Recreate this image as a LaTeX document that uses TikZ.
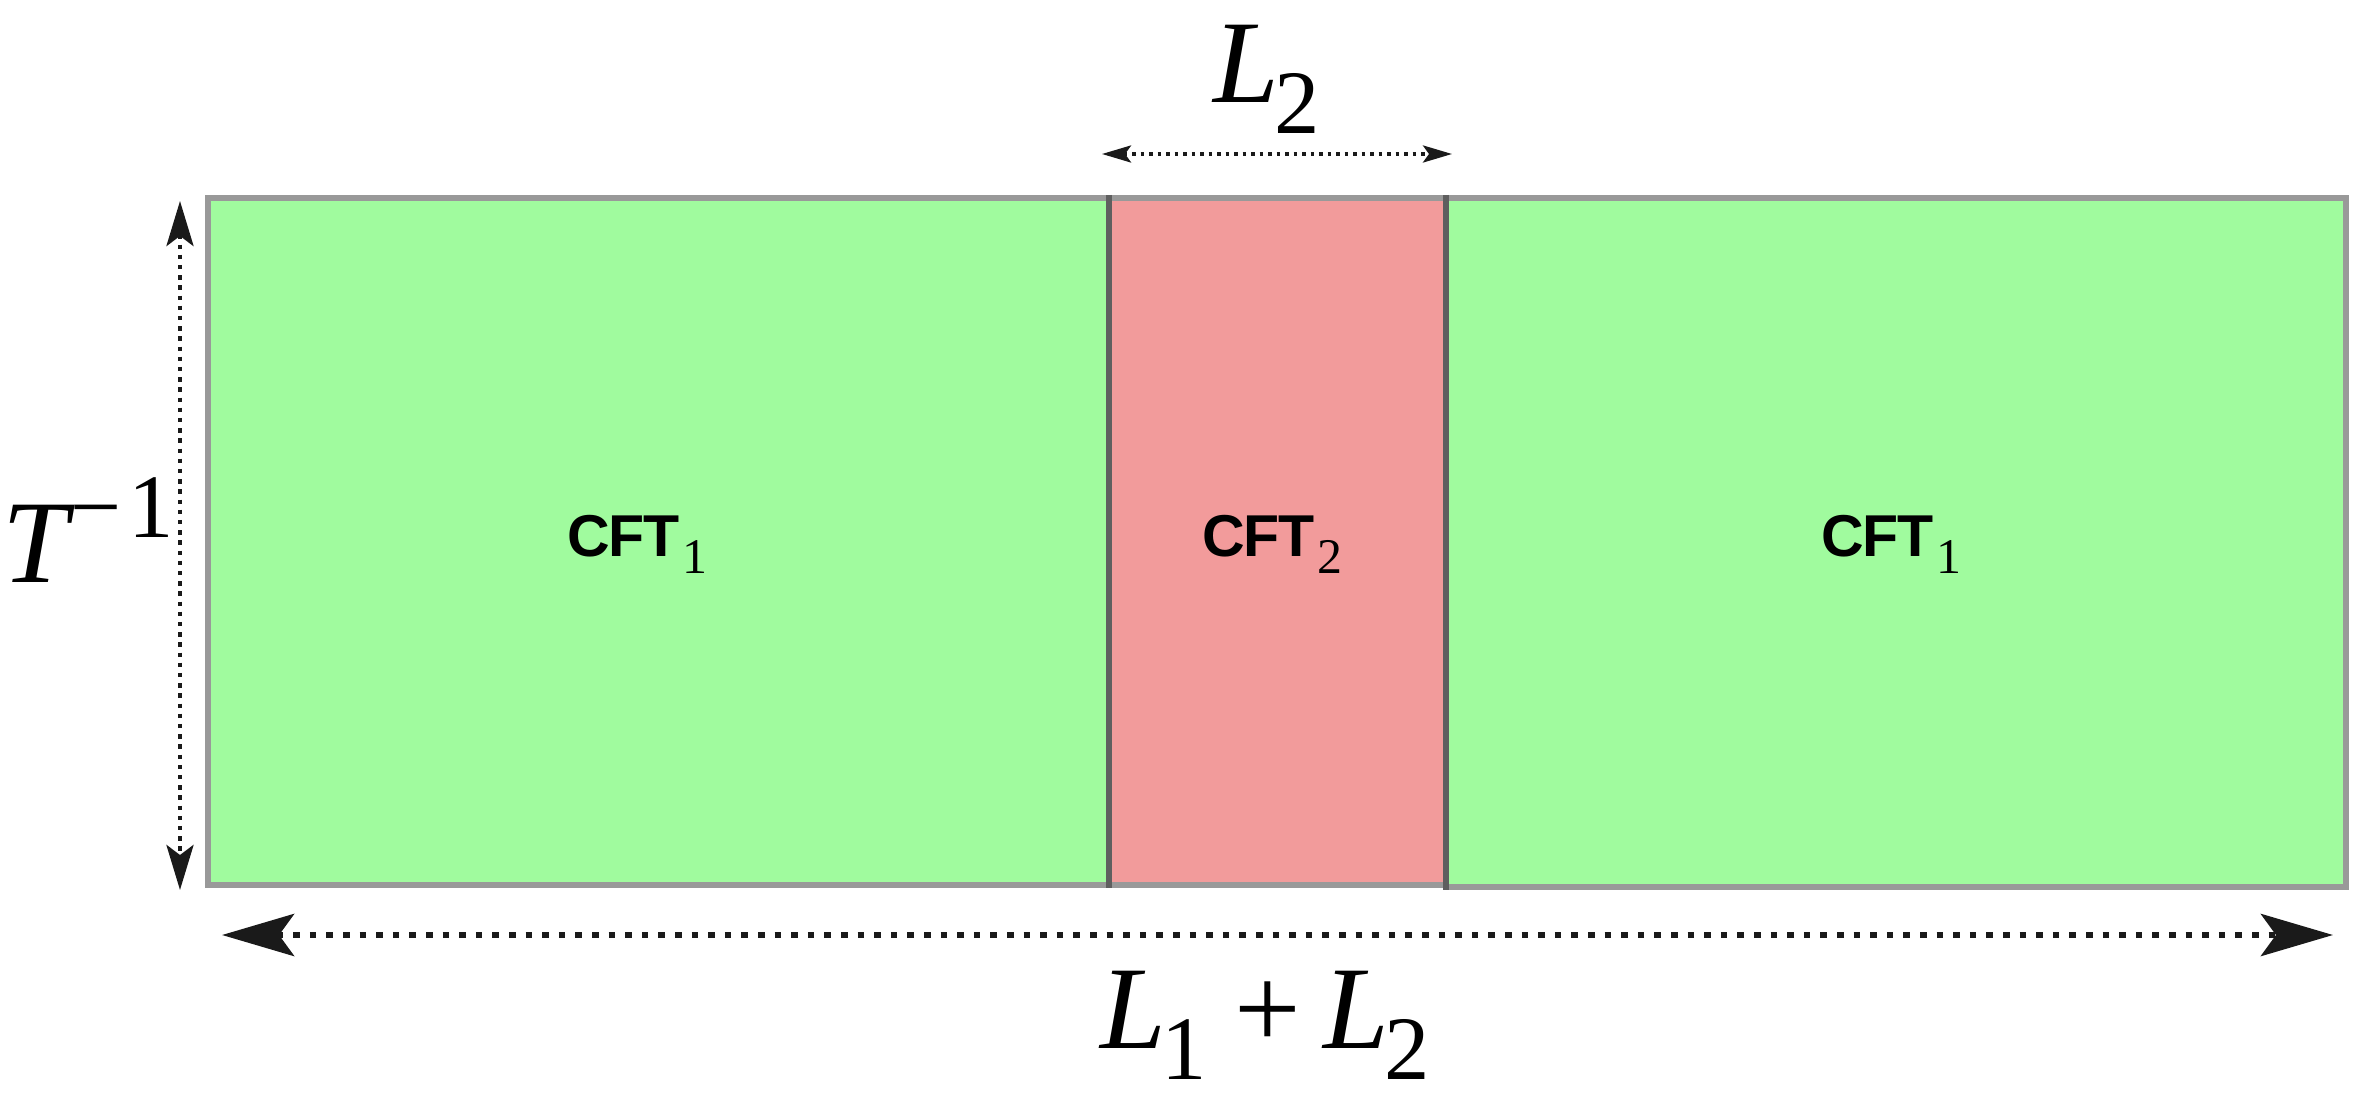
\documentclass[tikz,border=0pt]{standalone}
\usepackage{fontspec}
\setmainfont{Liberation Serif}
\setsansfont{Liberation Sans}
\usetikzlibrary{arrows.meta}
\definecolor{cgreen}{HTML}{A0FB9E}
\definecolor{cred}{HTML}{F29B9B}
\definecolor{cborder}{HTML}{999999}
\definecolor{cdiv}{HTML}{5F5F5F}
\definecolor{carrow}{HTML}{1A1A1A}
\newcommand\bigmath{\fontsize{33.6}{40}\selectfont}
\newcommand\submath{\fontsize{25.8}{30}\selectfont}
\newcommand\Lsub[1]{{\itshape L}\kern-0.04em\raisebox{-0.31cm}{\submath #1}}
\newcommand\cftlab[1]{{\sffamily\bfseries\fontsize{16.8}{20}\selectfont C\kern-0.025em F\kern-0.025em T}\kern0.03cm\raisebox{-0.17cm}{\fontsize{14.2}{16}\selectfont #1}}
\tikzset{
  border/.style={draw=cborder, line width=0.06cm},
  divider/.style={draw=cdiv, line width=0.06cm},
  cftstyle/.style={anchor=base west, inner sep=0pt, text=black},
  mathlab/.style={inner sep=0pt, text=black},
  dimbig/.style={carrow, line width=0.066cm, dash pattern=on 0.066cm off 0.10cm,
    {Stealth[length=0.72cm,width=0.42cm,inset=0.15cm]}-{Stealth[length=0.72cm,width=0.42cm,inset=0.15cm]}},
  dimmid/.style={carrow, line width=0.045cm, dash pattern=on 0.045cm off 0.057cm,
    {Stealth[length=0.45cm,width=0.27cm,inset=0.10cm]}-{Stealth[length=0.45cm,width=0.27cm,inset=0.10cm]}},
  dimsmall/.style={carrow, line width=0.037cm, dash pattern=on 0.037cm off 0.048cm,
    {Stealth[length=0.29cm,width=0.17cm,inset=0.06cm]}-{Stealth[length=0.29cm,width=0.17cm,inset=0.06cm]}},
}
\begin{document}
\begin{tikzpicture}
\useasboundingbox (0,0) rectangle (23.70,10.96);
% regions
\fill[cgreen] (2.08,2.11) rectangle (11.09,8.98);
\fill[cred] (11.09,2.11) rectangle (14.46,8.98);
\fill[cgreen] (14.46,2.09) rectangle (23.46,8.98);
% borders
\draw[border] (11.09,8.98) -- (2.08,8.98) -- (2.08,2.11) -- (11.09,2.11);
\draw[border] (11.09,8.98) -- (14.46,8.98);
\draw[border] (11.09,2.11) -- (14.46,2.11);
\draw[border] (14.46,8.98) -- (23.46,8.98) -- (23.46,2.09) -- (14.46,2.09);
\draw[divider] (11.09,9.01) -- (11.09,2.08);
\draw[divider] (14.46,9.01) -- (14.46,2.06);
% labels
\node[cftstyle] (c1) at (5.67,5.40) {\cftlab{1}};
\node[cftstyle] (c2) at (12.02,5.40) {\cftlab{2}};
\node[cftstyle] (c3) at (18.21,5.40) {\cftlab{1}};
% dimension coordinates
\coordinate (l2a) at (11.02,9.42);
\coordinate (l2b) at (14.52,9.42);
\coordinate (ta) at (1.80,8.95);
\coordinate (tb) at (1.80,2.06);
\coordinate (ba) at (2.22,1.61);
\coordinate (bb) at (23.33,1.61);
\draw[dimsmall] (l2a) -- (l2b);
\draw[dimmid] (ta) -- (tb);
\draw[dimbig] (ba) -- (bb);
% math labels
\node[mathlab, anchor=base] (lab2) at (12.67,9.93) {\bigmath\Lsub{2}};
\node[mathlab, anchor=base west] (labT) at (0.02,5.14) {\bigmath{\itshape T}\raisebox{0.45cm}{\submath\kern0.02em−\kern0.08em1}};
\node[mathlab, anchor=base] (labL) at (12.65,0.48) {\bigmath\Lsub{1}\hspace{0.28cm}+\hspace{0.22cm}\Lsub{2}};
\end{tikzpicture}
\end{document}
